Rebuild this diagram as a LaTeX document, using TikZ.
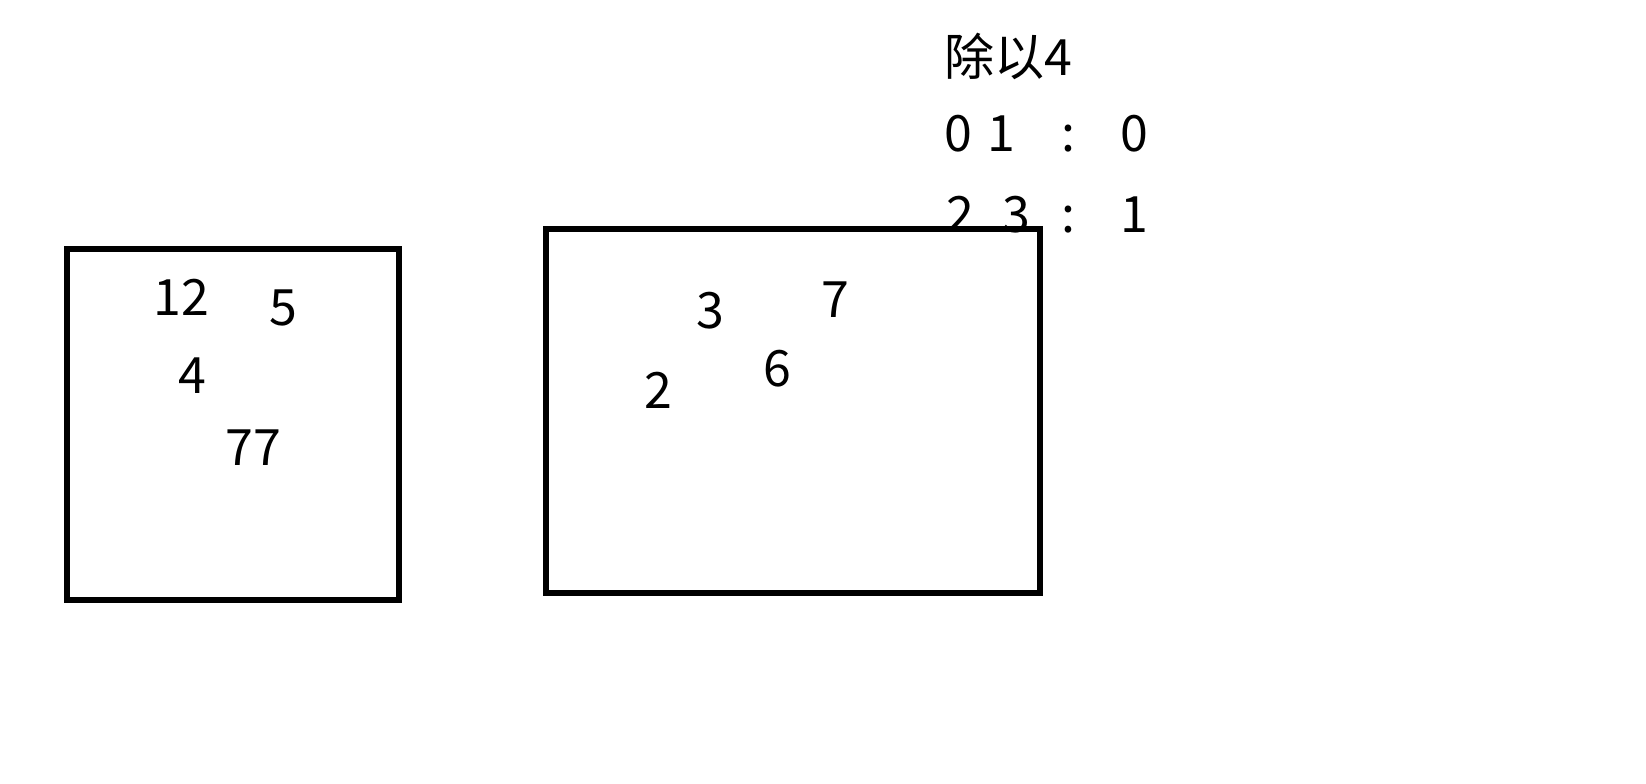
\documentclass[tikz,border=0pt]{standalone}
\usepackage{fontspec}
\newfontfamily\cjk{Noto Sans CJK SC}
\usepackage{tikz}

\tikzset{
    bin/.style={line width=3.2pt},
    num/.style={font=\cjk\fontsize{28.5}{34}\selectfont, inner sep=0pt, anchor=base}
}

\begin{document}
\begin{tikzpicture}[x=0.02cm, y=-0.02cm]
    % Page frame
    \useasboundingbox (0, 0) rectangle (1646, 784);

    % Draw the two boxes
    \draw[bin] (67, 249) rectangle (399, 600);
    \draw[bin] (546, 229) rectangle (1040, 593);

    % Numbers in the left box
    \node[num] (n12) at (181, 315) {12};
    \node[num] (n5) at (283, 325) {5};
    \node[num] (n4) at (192, 393) {4};
    \node[num] (n77) at (253, 465) {77};

    % Numbers in the right box
    \node[num] (n3) at (710, 328) {3};
    \node[num] (n7) at (835, 317) {7};
    \node[num] (n6) at (777, 386) {6};
    \node[num] (n2) at (658, 408) {2};

    % Note: divide by 4
    \node[num, anchor=base west] (title) at (944, 76) {除以4};
    \node[num] (ra) at (958, 152) {0};
    \node[num] (rb) at (1001, 152) {1};
    \node[num] (rc) at (1068, 152) {:};
    \node[num] (rd) at (1134, 152) {0};
    \node[num] (sa) at (960, 232) {2};
    \node[num] (sb) at (1016, 232) {3};
    \node[num] (sc) at (1068, 232) {:};
    \node[num] (sd) at (1134, 232) {1};
\end{tikzpicture}
\end{document}
